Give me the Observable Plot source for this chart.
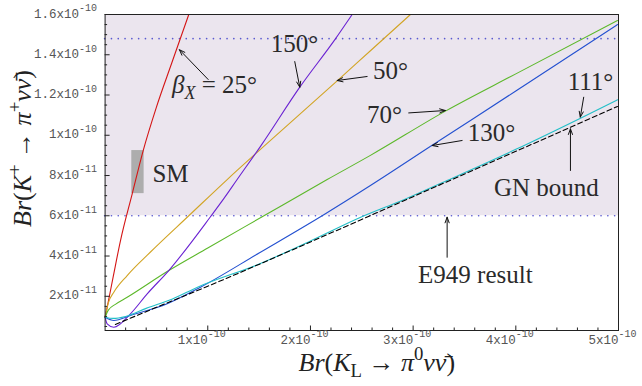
<!DOCTYPE html>
<html><head><meta charset="utf-8">
<script src="https://cdn.jsdelivr.net/npm/d3@7"></script>
<script src="https://cdn.jsdelivr.net/npm/@observablehq/plot@0.6"></script>
<style>body{margin:0;background:#fff}</style>
</head><body><div id="chart"></div>
<script>
// Units: x = Br(K_L -> pi0 nu nubar) in 1e-10, y = Br(K+ -> pi+ nu nubar) in 1e-11
const beta25 = [[0,0.96],[0.02,1.45],[0.08,3.0],[0.15,4.77],[0.264,7.09],[0.371,9.24],[0.5,11.4],[0.65,13.6],[0.815,16.0]];
const beta50 = [[0,0.96],[0.03,1.65],[0.085,2.2],[0.215,3.03],[0.442,4.2],[0.815,6.0],[1.189,7.8],[1.513,9.3],[2.26,12.7],[2.584,14.2],[2.974,16.0]];
const beta70 = [[0,0.96],[0.03,1.3],[0.1,1.6],[0.215,1.95],[0.62,3.28],[1.0,4.4],[1.53,5.95],[2.163,7.8],[2.584,9.0],[3.314,11.2],[4.0,13.05],[4.99,15.7]];
const beta111 = [[0,0.96],[0.08,0.9],[0.2,1.0],[0.4,1.4],[0.65,1.85],[0.9,2.45],[1.5,3.6],[2.0,4.75],[2.5,5.95],[2.91,6.8],[3.33,7.75],[4.0,9.3],[4.63,10.85],[4.99,11.76]];
const beta130 = [[0,0.96],[0.085,0.8],[0.247,1.05],[0.605,1.63],[0.929,2.45],[1.5,4.15],[2.13,6.05],[2.584,7.5],[3.185,9.5],[4.0,12.2],[4.99,15.5]];
const beta150 = [[0,0.96],[0.02,0.63],[0.085,0.46],[0.247,1.13],[0.41,2.12],[0.62,3.28],[1.026,5.95],[1.156,6.85],[1.286,7.8],[1.52,9.5],[1.896,12.39],[2.243,14.79],[2.406,16.0]];
const gnBound = [[0.1,0.6],[0.5,1.45],[1.0,2.5],[2.0,4.7],[3.0,6.95],[4.0,9.2],[4.99,11.43]];
const e949Lower = 6.0, e949Upper = 14.8;
const smBox = [{x1:0.26, x2:0.38, y1:7.1, y2:9.24}];
const xDomain = [0, 5], yDomain = [0.3, 16];
const xMajorTicks = [1,2,3,4,5];
const xTickLabels = ["1x10^{-10}","2x10^{-10}","3x10^{-10}","4x10^{-10}","5x10^{-10}"];
const yMajorTicks = [2,4,6,8,10,12,14,16];
const yTickLabels = ["2x10^{-11}","4x10^{-11}","6x10^{-11}","8x10^{-11}","1x10^{-10}","1.2x10^{-10}","1.4x10^{-10}","1.6x10^{-10}"];
const xMinorTicks = d3.range(0.2, 5, 0.2).filter(v => Math.abs(v - Math.round(v)) > 1e-6);
const yMinorTicks = d3.range(0.5, 16, 0.5).filter(v => Math.abs(v/2 - Math.round(v/2)) > 1e-6);
// annotations (markup: ~ toggles italic, _{ } subscript, ^{ } superscript)
const labels = [
  {x:1.065, y:12.52, t:"~β~_{~X~} = 25°"},
  {x:1.845, y:14.51, t:"150°"},
  {x:2.779, y:13.17, t:"50°"},
  {x:2.72,  y:11.03, t:"70°"},
  {x:3.762, y:10.09, t:"130°"},
  {x:4.727, y:12.67, t:"111°"},
  {x:4.298, y:7.40,  t:"GN bound"},
  {x:0.637, y:8.10,  t:"SM"},
  {x:3.606, y:3.08,  t:"E949 result"}
];
const arrows = [
  {x1:1.004, y1:12.77, x2:0.724, y2:14.25},
  {x1:1.847, y1:13.66, x2:1.896, y2:12.39},
  {x1:2.552, y1:12.92, x2:2.26,  y2:12.72},
  {x1:2.957, y1:11.11, x2:3.314, y2:11.23},
  {x1:3.477, y1:9.74,  x2:3.185, y2:9.49},
  {x1:4.661, y1:11.89, x2:4.628, y2:10.9},
  {x1:4.532, y1:8.25,  x2:4.532, y2:10.32},
  {x1:3.331, y1:3.94,  x2:3.331, y2:5.93}
];
const xLabel = "~Br~(~K~_{L} → ~π~^{0}~νν̄~)";
const yLabel = "~Br~(~K~^{+} → ~π~^{+}~νν̄~)";

const W = 642, H = 386, mL = 104.6, mR = 24, mT = 14, mB = 56;
const fw = W - mL - mR, fh = H - mT - mB;
const series = [
  {pts: beta25, color: "#d41515"},
  {pts: beta50, color: "#d2a424"},
  {pts: beta70, color: "#5cb82a"},
  {pts: beta150, color: "#6a22d2"},
  {pts: beta130, color: "#2350d0"},
  {pts: beta111, color: "#22bfc8"}
];
const serif = "Liberation Serif, DejaVu Serif, serif";
const mono = "Liberation Mono, Courier New, monospace";

const svg = Plot.plot({
  width: W, height: H,
  marginLeft: mL, marginRight: mR, marginTop: mT, marginBottom: mB,
  x: {domain: xDomain, axis: null},
  y: {domain: yDomain, axis: null},
  style: {fontFamily: serif, background: "#fff"},
  marks: [
    Plot.rect([{}], {x1: () => xDomain[0], x2: () => xDomain[1], y1: () => e949Lower, y2: () => yDomain[1], fill: "#ebe5ee"}),
    Plot.rect(smBox, {x1: "x1", x2: "x2", y1: "y1", y2: "y2", fill: "#adadad"}),
    Plot.ruleY([e949Lower, e949Upper], {stroke: "#5a5ad0", strokeWidth: 1.6, strokeDasharray: "0.1 6.7", strokeLinecap: "round"}),
    ...series.map(s => Plot.line(s.pts, {stroke: s.color, strokeWidth: 1.1, curve: "monotone-x"})),
    Plot.line(gnBound, {stroke: "#000", strokeWidth: 1.1, strokeDasharray: "5 3", curve: "monotone-x"}),
    Plot.frame({stroke: "#222", strokeWidth: 1}),
    Plot.ruleX(xMajorTicks, {x: d => d, insetTop: fh - 4.5, stroke: "#222"}),
    Plot.ruleX(xMinorTicks, {x: d => d, insetTop: fh - 2.5, stroke: "#222"}),
    Plot.ruleY(yMajorTicks, {y: d => d, insetRight: fw - 5, stroke: "#222"}),
    Plot.ruleY(yMinorTicks, {y: d => d, insetRight: fw - 2.5, stroke: "#222"}),
    Plot.text(xMajorTicks, {x: d => d, text: (d, i) => xTickLabels[i], frameAnchor: "bottom", dy: 13, dx: -6, textAnchor: "middle", fontFamily: mono, fontSize: 12.5, fill: "#555"}),
    Plot.text(yMajorTicks, {y: d => d, text: (d, i) => yTickLabels[i], frameAnchor: "left", dx: -8, dy: -1, textAnchor: "end", fontFamily: mono, fontSize: 12.5, fill: "#555"}),
    Plot.text([xLabel], {frameAnchor: "bottom", dy: 40, dx: 15, textAnchor: "middle", fontFamily: serif, fontSize: 26, fill: "#222"}),
    Plot.text([yLabel], {frameAnchor: "left", dx: -82, dy: -24, rotate: -90, textAnchor: "middle", fontFamily: serif, fontSize: 26, fill: "#222"}),
    Plot.text(labels, {x: "x", y: "y", text: "t", textAnchor: "middle", fontFamily: serif, fontSize: 25, fill: "#2a2a2a"}),
    Plot.arrow(arrows, {x1: "x1", y1: "y1", x2: "x2", y2: "y2", stroke: "#111", strokeWidth: 1, headLength: 9, headAngle: 40})
  ]
});
document.getElementById("chart").appendChild(svg);

function parseMarkup(src) {
  const segs = []; let italic = false, level = 0, buf = "";
  const flush = () => { if (buf) { segs.push({text: buf, italic, level}); buf = ""; } };
  for (let i = 0; i < src.length; i++) {
    const c = src[i];
    if (c === "~") { flush(); italic = !italic; }
    else if ((c === "_" || c === "^") && src[i + 1] === "{") { flush(); level = c === "^" ? 1 : -1; i++; }
    else if (c === "}" && level !== 0) { flush(); level = 0; }
    else buf += c;
  }
  flush();
  return segs;
}
d3.select(svg).selectAll("text").each(function() {
  if (this.querySelector("tspan")) return;
  const src = this.textContent;
  if (!/[~^_]/.test(src)) return;
  const cs = getComputedStyle(this);
  const base = parseFloat(cs.fontSize) || 12;
  const isMono = /Mono/.test(cs.fontFamily);
  const supScale = isMono ? 0.8 : 0.72;
  const supRaise = isMono ? 0.5 : 0.42;
  const segs = parseMarkup(src);
  const t = d3.select(this);
  t.text(null);
  let cur = 0;
  for (const s of segs) {
    const target = s.level === 1 ? -supRaise * base : s.level === -1 ? 0.25 * base : 0;
    const ts = t.append("tspan").text(s.text);
    if (target !== cur) ts.attr("dy", (target - cur).toFixed(2));
    cur = target;
    if (s.level !== 0) ts.attr("font-size", (base * supScale).toFixed(2));
    if (s.italic) ts.attr("font-style", "italic");
  }
});
</script>
</body></html>
